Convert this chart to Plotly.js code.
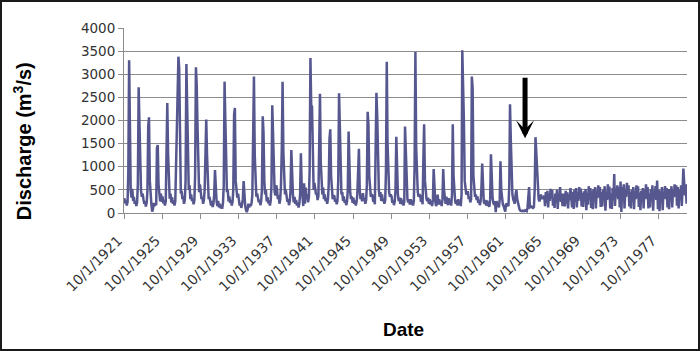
<!DOCTYPE html>
<html>
<head>
<meta charset="utf-8">
<script src="https://cdn.plot.ly/plotly-3.0.1.min.js"></script>
<style>
html,body{margin:0;padding:0;background:#fff;}
#wrap{position:relative;width:700px;height:351px;}
#chart{position:absolute;left:0;top:0;width:700px;height:351px;}
#frame{position:absolute;left:0;top:0;width:700px;height:351px;box-sizing:border-box;border:2px solid #1a1a1a;pointer-events:none;}
</style>
</head>
<body>
<div id="wrap"><div id="chart"></div><div id="frame"></div></div>
<script>
// Monthly discharge (m3/s), one row per water year (Oct..Sep), first water year = 1922
const firstWaterYear = 1922;

const flowWY1922_1931 = [
  [320, 210, 280, 160, 240, 880, 3300, 1140, 490, 330, 520, 260],
  [350, 200, 260, 150, 230, 620, 2720, 1950, 1140, 480, 350, 420],
  [300, 200, 250, 140, 220, 460, 1870, 2070, 700, 300, 180, 30],
  [90, 220, 150, 200, 170, 1400, 1470, 620, 300, 250, 420, 240],
  [360, 210, 280, 160, 250, 1380, 2380, 1300, 520, 310, 420, 230],
  [340, 200, 270, 160, 250, 900, 1790, 2520, 3380, 3130, 650, 420],
  [480, 300, 360, 200, 290, 700, 3220, 2370, 900, 500, 600, 300],
  [400, 260, 310, 190, 270, 800, 3150, 2770, 1870, 600, 450, 620],
  [420, 300, 350, 200, 280, 500, 1250, 2020, 1250, 450, 300, 350],
  [230, 160, 260, 130, 200, 400, 930, 450, 250, 150, 260, 120]
];
const flowWY1932_1941 = [
  [200, 100, 170, 90, 220, 600, 2840, 2010, 1290, 450, 500, 250],
  [360, 220, 280, 160, 240, 500, 2130, 2270, 700, 400, 330, 420],
  [250, 160, 220, 110, 200, 300, 690, 350, 150, 60, 20, 80],
  [200, 120, 190, 150, 220, 400, 1300, 2950, 1250, 500, 350, 420],
  [330, 230, 290, 170, 250, 500, 2090, 1740, 700, 400, 500, 250],
  [340, 210, 270, 160, 270, 600, 2330, 1500, 800, 450, 380, 600],
  [500, 300, 380, 200, 300, 600, 1400, 2840, 1300, 600, 400, 500],
  [380, 240, 300, 170, 250, 500, 1360, 700, 400, 230, 350, 200],
  [280, 160, 230, 120, 200, 400, 1290, 600, 300, 150, 640, 200],
  [550, 300, 400, 230, 350, 900, 3350, 2330, 2300, 900, 500, 650]
];
const flowWY1942_1951 = [
  [500, 400, 430, 280, 370, 2150, 2580, 1100, 600, 400, 550, 300],
  [400, 260, 320, 200, 300, 600, 1610, 1810, 800, 400, 300, 360],
  [380, 240, 300, 190, 270, 700, 2590, 1860, 700, 400, 450, 260],
  [360, 220, 280, 170, 250, 500, 1760, 1000, 450, 300, 360, 220],
  [330, 200, 270, 160, 240, 400, 1000, 1390, 500, 300, 380, 250],
  [430, 280, 320, 200, 280, 600, 2190, 1900, 800, 400, 350, 400],
  [380, 240, 300, 190, 1100, 2600, 2100, 800, 500, 350, 450, 260],
  [400, 250, 310, 200, 280, 900, 3270, 1500, 700, 450, 350, 400],
  [360, 220, 280, 170, 250, 500, 1650, 900, 400, 260, 330, 200],
  [320, 190, 270, 160, 250, 1870, 1200, 500, 300, 230, 300, 180]
];
const flowWY1952_1961 = [
  [300, 180, 270, 160, 250, 1000, 3480, 1400, 700, 450, 350, 400],
  [380, 240, 300, 190, 1200, 1920, 700, 400, 300, 260, 330, 200],
  [300, 180, 260, 150, 300, 950, 500, 250, 150, 200, 400, 180],
  [300, 180, 260, 150, 300, 950, 500, 300, 200, 350, 200, 170],
  [320, 190, 270, 160, 400, 1920, 800, 400, 250, 200, 280, 160],
  [300, 180, 260, 150, 400, 3520, 2840, 2000, 700, 500, 400, 450],
  [450, 300, 350, 230, 300, 2950, 2700, 800, 500, 350, 400, 280],
  [360, 220, 290, 170, 250, 500, 1070, 500, 250, 200, 280, 160],
  [270, 150, 240, 130, 300, 1270, 600, 350, 220, 180, 260, 20],
  [260, 140, 230, 120, 300, 1120, 500, 300, 180, 150, 60, 30]
];
const flowWY1962_1971 = [
  [200, 180, 160, 150, 600, 2350, 1580, 920, 400, 300, 250, 200],
  [400, 500, 300, 200, 150, 80, 50, 40, 40, 50, 50, 40],
  [60, 50, 40, 120, 540, 560, 120, 130, 140, 120, 110, 130],
  [500, 1640, 1290, 700, 400, 300, 250, 350, 400, 300, 350, 300],
  [380, 150, 450, 220, 480, 120, 420, 260, 520, 310, 500, 160],
  [300, 110, 420, 250, 500, 90, 380, 300, 560, 240, 420, 150],
  [220, 420, 140, 480, 200, 450, 100, 400, 280, 540, 380, 120],
  [460, 90, 500, 240, 540, 120, 450, 260, 560, 300, 530, 140],
  [430, 130, 470, 300, 520, 60, 430, 180, 580, 280, 540, 110],
  [480, 80, 520, 250, 560, 100, 470, 320, 600, 350, 560, 130]
];
const flowWY1972_1980 = [
  [450, 140, 500, 320, 580, 50, 460, 280, 620, 300, 570, 100],
  [420, 90, 540, 280, 840, 150, 500, 380, 600, 300, 560, 120],
  [680, 20, 560, 300, 620, 100, 480, 350, 650, 400, 600, 140],
  [460, 100, 500, 260, 560, 80, 470, 300, 600, 320, 580, 130],
  [440, 60, 480, 240, 540, 100, 500, 320, 620, 300, 560, 100],
  [420, 120, 520, 280, 600, 50, 480, 360, 580, 280, 700, 80],
  [500, 40, 480, 260, 560, 60, 460, 340, 580, 300, 540, 120],
  [520, 80, 520, 300, 580, 120, 500, 340, 620, 360, 600, 160],
  [560, 100, 500, 280, 600, 150, 520, 960, 660, 380, 620, 200]
];

const tickDates = ['1921-10-01','1925-10-01','1929-10-01','1933-10-01','1937-10-01','1941-10-01','1945-10-01',
  '1949-10-01','1953-10-01','1957-10-01','1961-10-01','1965-10-01','1969-10-01','1973-10-01','1977-10-01'];
const tickLabels = ['10/1/1921','10/1/1925','10/1/1929','10/1/1933','10/1/1937','10/1/1941','10/1/1945',
  '10/1/1949','10/1/1953','10/1/1957','10/1/1961','10/1/1965','10/1/1969','10/1/1973','10/1/1977'];

const xTitle = 'Date';
const yTitle = 'Discharge (m<sup>3</sup>/s)';

const arrowDate = '1963-10-12';
const arrowValue = 1614;

const allRows = [].concat(flowWY1922_1931, flowWY1932_1941, flowWY1942_1951, flowWY1952_1961, flowWY1962_1971, flowWY1972_1980);
const xDates = [], yFlow = [];
allRows.forEach((row, i) => {
  const wy = firstWaterYear + i;
  row.forEach((v, m) => {
    const mon = (m + 9) % 12 + 1;
    const yr = m < 3 ? wy - 1 : wy;
    xDates.push(yr + '-' + String(mon).padStart(2, '0') + '-15');
    yFlow.push(v);
  });
});

const trace = {
  x: xDates, y: yFlow, type: 'scatter', mode: 'lines',
  line: {color: '#56578f', width: 2.5},
  hoverinfo: 'x+y'
};

const titleFont = {family: 'Liberation Sans, Arial, sans-serif', color: '#000'};

const layout = {
  width: 700, height: 351,
  margin: {l: 124, r: 13, t: 28, b: 138, pad: 0},
  paper_bgcolor: '#ffffff', plot_bgcolor: '#ffffff',
  showlegend: false,
  font: {family: 'DejaVu Sans, Verdana, sans-serif', color: '#333333', size: 13},
  xaxis: {
    type: 'date', range: ['1921-10-01', '1980-10-01'],
    tickmode: 'array', tickvals: tickDates, ticktext: tickLabels,
    tickangle: -45, ticks: 'outside', ticklen: 5, tickcolor: '#8c8c8c', tickwidth: 1,
    ticklabelshift: -6, ticklabelstandoff: 8,
    showgrid: false, showline: true, linecolor: '#8c8c8c', linewidth: 1, zeroline: false,
    tickfont: {size: 14, color: '#333333'}
  },
  yaxis: {
    range: [0, 4000], tick0: 0, dtick: 500,
    ticks: 'outside', ticklen: 5, tickcolor: '#8c8c8c', tickwidth: 1,
    showgrid: true, gridcolor: '#8c8c8c', gridwidth: 1,
    showline: true, linecolor: '#8c8c8c', linewidth: 1, zeroline: false,
    tickfont: {size: 13.5, color: '#333333'}
  },
  annotations: [
    {
      x: arrowDate, y: arrowValue, xref: 'x', yref: 'y',
      text: '', showarrow: true, arrowhead: 3, arrowsize: 0.6, arrowwidth: 5,
      arrowcolor: '#000000', ax: 0, ay: -62, standoff: 0
    },
    {
      text: '<b>' + xTitle + '</b>', xref: 'paper', yref: 'paper', x: 0.497, y: -0.632,
      xanchor: 'center', yanchor: 'middle', showarrow: false, font: Object.assign({size: 19}, titleFont)
    },
    {
      text: '<b>' + yTitle + '</b>', xref: 'paper', yref: 'paper', x: -0.181, y: 0.389,
      xanchor: 'center', yanchor: 'middle', textangle: -90, showarrow: false, font: Object.assign({size: 20}, titleFont)
    }
  ]
};

Plotly.newPlot('chart', [trace], layout, {displayModeBar: false, staticPlot: true});
</script>
</body>
</html>
